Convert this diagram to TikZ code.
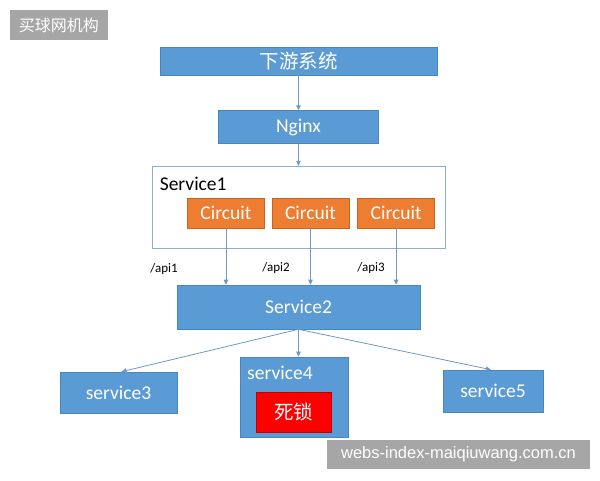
\documentclass[tikz,border=0pt]{standalone}
\usepackage{fontspec}
\setmainfont{Carlito}
\newfontfamily\cjk{Noto Sans CJK SC}
\newfontfamily\markfont{Liberation Sans}
\usetikzlibrary{arrows.meta,positioning,calc}
\definecolor{Office}{HTML}{5B9BD5}
\definecolor{OfficeEdge}{HTML}{4A86BE}
\definecolor{Amber}{HTML}{ED7D31}
\definecolor{AmberEdge}{HTML}{C8641F}
\definecolor{Alarm}{HTML}{FF0000}
\definecolor{AlarmEdge}{HTML}{C00000}
\definecolor{Frame}{HTML}{8EAECF}
\definecolor{Wire}{HTML}{6F98C4}
\definecolor{Stamp}{HTML}{A6A6A6}
\tikzset{
  bluebox/.style={draw=OfficeEdge,fill=Office,inner sep=0pt,align=center,font=\fontsize{19.5}{22}\selectfont,text=white,line width=0.6pt},
  circuitbox/.style={draw=AmberEdge,fill=Amber,inner sep=0pt,minimum width=77pt,minimum height=30pt,font=\fontsize{19.5}{22}\selectfont,text=white,line width=0.6pt},
  lockbox/.style={draw=AlarmEdge,fill=Alarm,inner sep=0pt,font=\cjk\fontsize{19.5}{22}\selectfont,text=white,line width=0.8pt},
  groupbox/.style={draw=Frame,fill=white,inner sep=0pt,line width=0.8pt},
  apilabel/.style={inner sep=0pt,font=\fontsize{13}{15}\selectfont,text=black},
  stampbox/.style={fill=Stamp,inner sep=0pt,text=white},
  line/.style={-{Triangle[length=5pt,width=4.5pt]},draw=Wire,line width=0.8pt}
}
\begin{document}
\begin{tikzpicture}[x=1pt,y=-1pt]
  \useasboundingbox[fill=white] (0,0) rectangle (600,480);
  % top part
  \node[stampbox,minimum width=98pt,minimum height=30pt,font=\cjk\fontsize{16}{18}\selectfont] (mark1) at (59,25) {买球网机构};
  \node[bluebox,minimum width=277pt,minimum height=28pt,font=\cjk\fontsize{19.5}{22}\selectfont] (down) at (298.5,61) {下游系统};
  \node[bluebox,minimum width=160pt,minimum height=33pt,below=35pt of down] (nginx) {Nginx};
  \node[groupbox,minimum width=293pt,minimum height=82pt,below=22pt of nginx] (svc1) {};
  \node[anchor=west,inner sep=0pt,font=\fontsize{19.5}{22}\selectfont] (svc1label) at ($(svc1.north west)+(8,18)$) {Service1};
  \node[circuitbox] (circ2) at (310.5,213) {Circuit};
  \node[circuitbox,left=7pt of circ2] (circ1) {Circuit};
  \node[circuitbox,right=8pt of circ2] (circ3) {Circuit};
  \node[bluebox,minimum width=243pt,minimum height=44pt,below=36pt of svc1] (svc2) {Service2};
  \node[apilabel] (api1) at (164,269) {/api1};
  \node[apilabel] (api2) at (276,268) {/api2};
  \node[apilabel] (api3) at (371,268) {/api3};
  % bottom part
  \node[bluebox,minimum width=117pt,minimum height=41pt] (svc3) at (118.5,392.5) {service3};
  \node[bluebox,minimum width=108pt,minimum height=80pt] (svc4) at (294,397) {};
  \node[anchor=west,inner sep=0pt,text=white,font=\fontsize{19.5}{22}\selectfont] (svc4label) at (247,373) {service4};
  \node[lockbox,minimum width=75pt,minimum height=40pt] (lock) at (293.5,412) {死锁};
  \node[bluebox,minimum width=100pt,minimum height=42pt] (svc5) at (493,391) {service5};
  \node[stampbox,minimum width=263pt,minimum height=29pt,font=\markfont\fontsize{16.5}{18}\selectfont] (mark2) at (458.5,454.5) {webs-index-maiqiuwang.com.cn};
  \draw[line] (down) -- (nginx);
  \draw[line] (nginx) -- (svc1);
  \draw[line] (circ1.south) -- (circ1.south |- svc2.north);
  \draw[line] (circ2.south) -- (circ2.south |- svc2.north);
  \draw[line] (circ3.south) -- (circ3.south |- svc2.north);
  \draw[line] (svc2.south) -- ($(svc3.north)+(3,0)$);
  \draw[line] (svc2.south) -- (svc2.south |- svc4.north);
  \draw[line] (svc2.south) -- ($(svc5.north)+(-2,0)$);
\end{tikzpicture}
\end{document}
